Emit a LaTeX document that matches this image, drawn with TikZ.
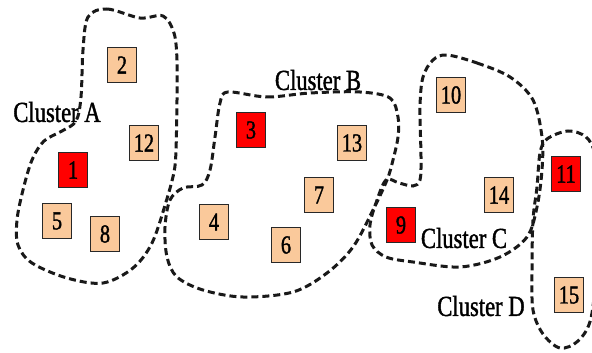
\documentclass[tikz,border=0pt]{standalone}
\usepackage{fontspec}
\newfontfamily\figfont[FakeStretch=0.78,FakeBold=1.3]{Liberation Serif}
\definecolor{peach}{RGB}{250,201,155}
\definecolor{redfill}{RGB}{255,0,0}
\definecolor{boxline}{RGB}{40,40,40}
\tikzset{
  item/.style={draw=boxline, line width=1.6pt, minimum width=29pt, minimum height=35pt,
    inner sep=0pt, font=\figfont\fontsize{26}{26}\selectfont},
  plain/.style={item, fill=peach},
  head/.style={item, fill=redfill},
  clabel/.style={inner sep=0pt, font=\figfont\fontsize{29}{29}\selectfont},
  cluster/.style={draw=black!90, line width=3pt, dash pattern=on 7pt off 4pt}
}
\begin{document}
\begin{tikzpicture}[x=1pt,y=-1pt]
\useasboundingbox (0,0) rectangle (592,353);
\clip (0,0) rectangle (592,353);
% cluster outlines
\draw[cluster] plot[smooth cycle, tension=0.55] coordinates {
 (88,17) (107,9) (140,18) (163,16) (174,33) (177,60) (177,100) (176,150)
 (174,172) (166,202) (152,243) (133,268) (103,283) (67,278) (32,263) (18,245)
 (17,220) (23,190) (32,160) (44,141) (62,131) (76,121) (81,97) (83,50)};
\draw[cluster] plot[smooth cycle, tension=0.55] coordinates {
 (228,92) (267,97) (310,93) (360,92) (390,98) (398,117) (398,137) (393,160)
 (387,180) (373,210) (353,247) (327,273) (293,292) (243,297) (203,290) (177,277)
 (167,257) (165,227) (170,200) (183,188) (202,185) (210,170) (215,137) (220,103)};
\draw[cluster] plot[smooth cycle, tension=0.55] coordinates {
 (447,55) (477,63) (510,77) (533,100) (542,137) (542,170) (537,207) (527,237)
 (500,257) (460,267) (413,262) (386,257) (372,245) (370,225) (376,203) (386,180)
 (399,183) (413,186) (420,180) (421,157) (420,107) (423,77) (433,60)};
\draw[cluster] plot[smooth cycle, tension=0.55] coordinates {
 (568,131) (586,137) (595,155) (598,200) (597,260) (591,318) (578,341) (560,348)
 (543,334) (533,310) (532,270) (533,220) (537,187) (540,153) (547,139)};
% nodes
\node[plain] (n2)  at (122,65)  {2};
\node[plain] (n12) at (144,143) {12};
\node[head]  (n1)  at (73,170)  {1};
\node[plain] (n5)  at (57,221)  {5};
\node[plain] (n8)  at (105,234) {8};
\node[head]  (n3)  at (251,130) {3};
\node[plain] (n13) at (352,143) {13};
\node[plain] (n7)  at (319,195) {7};
\node[plain] (n4)  at (214,222) {4};
\node[plain] (n6)  at (286,245) {6};
\node[head]  (n9)  at (401,225) {9};
\node[plain] (n10) at (451,95)  {10};
\node[plain] (n14) at (499,195) {14};
\node[head]  (n11) at (566,174) {11};
\node[plain] (n15) at (569,295) {15};
% labels
\node[clabel] (la) at (57,112)  {Cluster A};
\node[clabel] (lb) at (318,80)  {Cluster B};
\node[clabel] (lc) at (464,238) {Cluster C};
\node[clabel] (ld) at (481,306) {Cluster D};
\end{tikzpicture}
\end{document}
